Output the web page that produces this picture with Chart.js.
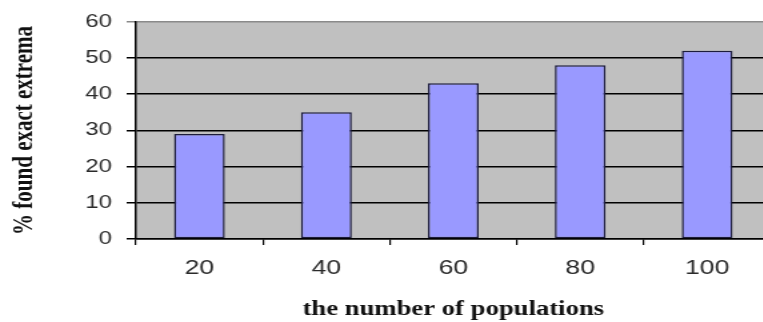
<!DOCTYPE html>
<html>
<head>
<meta charset="utf-8">
<script src="https://cdn.jsdelivr.net/npm/chart.js@4/dist/chart.umd.min.js"></script>
<style>
  html, body { margin: 0; padding: 0; background: #ffffff; overflow: hidden; }
  /* the figure is drawn on a narrower canvas and widened horizontally */
  #wrap { width: 582px; height: 322px; transform: scaleX(1.3333); transform-origin: 0 0; }
  #c { display: block; }
</style>
</head>
<body>
<div id="wrap"><canvas id="c" width="582" height="322"></canvas></div>
<script>
// Share of runs that found the exact extrema, by population count
const populations = ['20', '40', '60', '80', '100'];
const foundExact = [29, 35, 43, 48, 52];
const yTicks = [0, 10, 20, 30, 40, 50, 60];

// Grey plot-area backdrop
const plotBackground = {
  id: 'plotBackground',
  beforeDraw(chart) {
    const { ctx, chartArea: a } = chart;
    ctx.save();
    ctx.fillStyle = '#c0c0c0';
    ctx.fillRect(a.left, a.top, a.right - a.left, a.bottom - a.top);
    ctx.restore();
  }
};

new Chart(document.getElementById('c'), {
  type: 'bar',
  data: {
    labels: populations,
    datasets: [{
      data: foundExact,
      backgroundColor: '#9999ff',
      borderColor: '#1c1c3c',
      borderWidth: 1.5,
      borderSkipped: false,
      barPercentage: 0.4,
      categoryPercentage: 1.0
    }]
  },
  options: {
    responsive: false,
    animation: false,
    layout: { padding: { top: 21, right: 4, left: 0, bottom: 0 } },
    plugins: { legend: { display: false }, tooltip: { enabled: false } },
    scales: {
      x: {
        offset: true,
        grid: {
          offset: true,
          drawOnChartArea: false,
          drawTicks: true,
          tickLength: 6,
          color: '#000000',
          lineWidth: 1.2
        },
        border: { display: true, color: '#000000', width: 1.5 },
        ticks: {
          color: '#2a2a2a',
          font: { family: 'Liberation Sans, Arial, sans-serif', size: 20 },
          padding: 11
        },
        title: {
          display: true,
          text: 'the number of populations',
          color: '#111111',
          font: { family: 'Liberation Serif, Times New Roman, serif', size: 20, weight: 'bold' },
          padding: { top: 14, bottom: 0 }
        },
        afterFit(scale) { scale.height = 83; }
      },
      y: {
        min: 0,
        max: 60,
        afterBuildTicks(scale) { scale.ticks = yTicks.map(v => ({ value: v })); },
        grid: {
          color: ctx => (ctx.tick && ctx.tick.value === 60 ? '#8a8a8a' : '#000000'),
          lineWidth: 1.5,
          drawTicks: true,
          tickLength: 7
        },
        border: { display: true, color: '#000000', width: 1.5 },
        ticks: {
          color: '#2a2a2a',
          font: { family: 'Liberation Sans, Arial, sans-serif', size: 18 },
          padding: 11
        },
        title: {
          display: true,
          text: '% found exact extrema',
          color: '#111111',
          font: { family: 'Liberation Serif, Times New Roman, serif', size: 21, weight: 'bold' },
          padding: { top: 6, bottom: 0 }
        },
        afterFit(scale) { scale.width = 102; }
      }
    }
  },
  plugins: [plotBackground]
});
</script>
</body>
</html>
